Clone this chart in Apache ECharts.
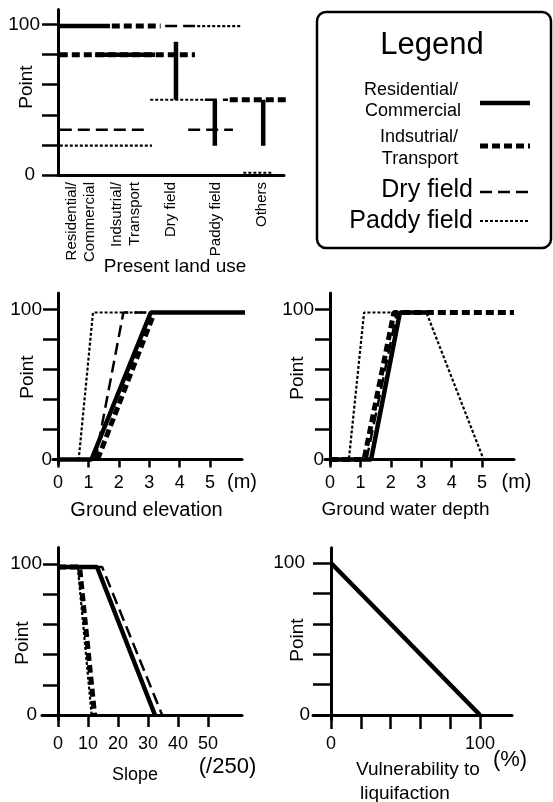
<!DOCTYPE html>
<html>
<head>
<meta charset="utf-8">
<title>Land use points</title>
<script src="https://cdn.jsdelivr.net/npm/echarts@6/dist/echarts.min.js"></script>
<style>
  html, body { margin: 0; padding: 0; background: #fff; }
  #main { width: 553px; height: 802px; }
</style>
</head>
<body>
<div id="main"></div>
<script>
// ---------------- data ----------------
var landUseCats = ['Residential/\nCommercial', 'Indsutrial/\nTransport', 'Dry field', 'Paddy field', 'Others'];

// present land use panel, x in category units (0..5)
var landRes   = [[[0, 99], [1.15, 99]], [[0.82, 80], [2.15, 80]], [[2.61, 88.5], [2.61, 50]], [[3.47, 50], [3.47, 19.5]], [[4.54, 50], [4.54, 19.5]]];
var landInd   = [[[1.19, 99], [2.27, 99]], [[0.04, 80], [3.03, 80]], [[3.8, 50], [5.09, 50]]];
var landDry   = [[[2.37, 99], [3.08, 99]], [[0.04, 30], [2.0, 30]], [[3.25, 50], [3.76, 50]], [[2.88, 30], [3.87, 30]]];
var landPaddy = [[[3.08, 99], [4.07, 99]], [[0.04, 19.5], [2.08, 19.5]], [[2.04, 50], [3.25, 50]], [[4.1, 1.5], [4.75, 1.5]]];

// ground elevation (m)
var elevRes   = [[[0, 0], [1.1, 0], [3.05, 98], [6.25, 98]]];
var elevInd   = [[[1.3, 0], [3.15, 97]]];
var elevDry   = [[[0, 0], [1.23, 0], [2.15, 98], [2.9, 98]]];
var elevPaddy = [[[0, 0], [0.68, 0], [1.15, 98], [2.9, 98]]];

// ground water depth (m)
var waterRes   = [[[0, 0], [1.35, 0], [2.3, 98], [3.35, 98]]];
var waterInd   = [[[0, 0], [1.12, 0], [2.1, 98], [6.05, 98]]];
var waterDry   = [[[1.2, 0], [2.2, 98], [3.3, 98]]];
var waterPaddy = [[[0, 0], [0.62, 0], [1.12, 98], [3.17, 98], [5.05, 0], [6.05, 0]]];

// slope (/250)
var slopeRes   = [[[0, 98], [13, 98], [32.3, 0]]];
var slopeInd   = [[[0, 98], [7.2, 98], [12.2, 0]]];
var slopeDry   = [[[0, 98], [14.7, 98], [34.7, 0]]];
var slopePaddy = [[[0, 98], [6.6, 98], [11.2, 0]]];

// vulnerability to liquifaction (%)
var vulnRes = [[[0, 100], [100, 0]]];

var meterTicks = [0, 1, 2, 3, 4, 5];
var slopeTicks = [0, 10, 20, 30, 40, 50];
var vulnTicks = [0, 20, 40, 60, 80, 100];
var vulnLabels = [0, 100];
var pointTicks = [20, 40, 60, 80, 100];

// ---------------- styles ----------------
var FONT = '"Liberation Sans", Arial, Helvetica, sans-serif';
var styles = {
  res:   { type: 'solid', width: 4.5 },
  ind:   { type: [8, 4], width: 5 },
  dry:   { type: [12, 6], width: 2.5 },
  paddy: { type: [3, 2], width: 2.2 }
};

function segs(list, key, xIdx, yIdx) {
  return list.map(function (d) {
    return {
      type: 'line', data: d, xAxisIndex: xIdx, yAxisIndex: yIdx,
      symbol: 'none', showSymbol: false, clip: false, silent: true, animation: false,
      lineStyle: { color: '#000', width: styles[key].width, type: styles[key].type, cap: 'butt' }
    };
  });
}
function panel(p, r, d, i, xIdx, yIdx) {
  return [].concat(segs(p, 'paddy', xIdx, yIdx), segs(d, 'dry', xIdx, yIdx),
                   segs(i, 'ind', xIdx, yIdx), segs(r, 'res', xIdx, yIdx));
}

function valX(gi, min, max, ticks, labels, tickLen, margin) {
  return {
    gridIndex: gi, type: 'value', min: min, max: max, splitLine: { show: false },
    axisLine: { onZero: true, lineStyle: { color: '#000', width: 3 } },
    axisTick: { customValues: ticks, length: tickLen, lineStyle: { color: '#000', width: 2.5 } },
    axisLabel: { customValues: labels, margin: margin, color: '#000', fontSize: 18, fontFamily: FONT }
  };
}
function valY(gi, min, max, ticks, tickLen, margin, pad0, pad100) {
  return {
    gridIndex: gi, type: 'value', min: min, max: max, splitLine: { show: false },
    axisLine: { onZero: true, lineStyle: { color: '#000', width: 3 } },
    axisTick: { customValues: ticks, length: tickLen, lineStyle: { color: '#000', width: 2.5 } },
    axisLabel: {
      customValues: [0, 100], margin: margin, color: '#000',
      formatter: function (v) { return v === 100 ? '{a|100}' : '{b|0}'; },
      rich: {
        a: { fontSize: 19, fontFamily: FONT, color: '#000', padding: [0, pad100, 0, 0] },
        b: { fontSize: 19, fontFamily: FONT, color: '#000', padding: [0, pad0, 0, 0] }
      }
    }
  };
}

function txt(s, x, y, size, align, rot) {
  return {
    type: 'text', x: x, y: y, rotation: rot || 0, silent: true,
    style: { text: s, fontSize: size, fontFamily: FONT, fill: '#000',
             align: align || 'center', verticalAlign: 'middle',
             textAlign: align || 'center', textVerticalAlign: 'middle' }
  };
}

var legendKeys = [['res', 103], ['ind', 146], ['dry', 192], ['paddy', 221]];

var graphics = [
  { type: 'rect', silent: true, shape: { x: 317, y: 12, width: 234, height: 236, r: 9 },
    style: { fill: 'none', stroke: '#000', lineWidth: 2.5 } },
  txt('Legend', 432, 45, 31),
  txt('Residential/', 411, 90, 18),
  txt('Commercial', 413, 111, 18),
  txt('Indsutrial/', 419, 137, 18),
  txt('Transport', 420, 159, 18),
  txt('Dry field', 473, 190, 25, 'right'),
  txt('Paddy field', 473, 221, 25, 'right'),
  txt('Point', 27, 87, 19, 'center', Math.PI / 2),
  txt('Point', 27.5, 377, 19, 'center', Math.PI / 2),
  txt('Point', 297.5, 378, 19, 'center', Math.PI / 2),
  txt('Point', 22.5, 643, 19, 'center', Math.PI / 2),
  txt('Point', 297.5, 640, 19, 'center', Math.PI / 2),
  txt('Present land use', 175, 267, 19),
  txt('Ground elevation', 146.5, 510, 20),
  txt('(m)', 242, 482, 20),
  txt('Ground water depth', 405.5, 510, 19),
  txt('(m)', 516.5, 482, 20),
  txt('Slope', 135, 775, 18),
  txt('(/250)', 227.5, 767, 22),
  txt('Vulnerability to', 356, 770, 19, 'left'),
  txt('liquifaction', 360, 794, 19, 'left'),
  txt('(%)', 510, 760, 22)
];
legendKeys.forEach(function (k) {
  graphics.push({
    type: 'line', silent: true, shape: { x1: 480, y1: k[1], x2: 530, y2: k[1] },
    style: { stroke: '#000', lineWidth: styles[k[0]].width,
             lineDash: styles[k[0]].type === 'solid' ? null : styles[k[0]].type }
  });
});

var option = {
  animation: false,
  backgroundColor: '#fff',
  grid: [
    { left: 58, top: 9.5, width: 226, height: 165.5 },
    { left: 53, top: 293, width: 189, height: 171 },
    { left: 325, top: 293, width: 189, height: 171 },
    { left: 42, top: 547.4, width: 200, height: 172.1 },
    { left: 313, top: 547.8, width: 199, height: 171.8 }
  ],
  xAxis: [
    {
      gridIndex: 0, type: 'category', data: landUseCats, boundaryGap: true,
      axisLine: { lineStyle: { color: '#000', width: 3 } },
      axisTick: { length: 11, alignWithLabel: false, lineStyle: { color: '#000', width: 2.5 } },
      axisLabel: { interval: 0, rotate: 90, margin: 7, color: '#000', fontSize: 15, lineHeight: 18, fontFamily: FONT }
    },
    { gridIndex: 0, type: 'value', min: 0, max: 5, show: false },
    valX(1, -0.165, 6.05, meterTicks, meterTicks, 8, 10.5),
    valX(2, -0.165, 6.05, meterTicks, meterTicks, 8, 10.5),
    valX(3, -5.333, 61.3, slopeTicks, slopeTicks, 12, 16),
    valX(4, -12.08, 121.5, vulnTicks, vulnLabels, 14, 15)
  ],
  yAxis: [
    valY(0, 0, 110, [0, 20, 40, 60, 80, 100], 16, 18, 5, 0),
    valY(1, -3, 111, pointTicks, 15, 1, 0, 10),
    valY(2, -3, 111, pointTicks, 15, 1, 0, 10),
    valY(3, -3, 111, pointTicks, 15, 0, 5, 0),
    valY(4, -3, 110, pointTicks, 18, 3, 0, 5)
  ],
  graphic: graphics,
  series: [].concat(
    panel(landPaddy, landRes, landDry, landInd, 1, 0),
    panel(elevPaddy, elevRes, elevDry, elevInd, 2, 1),
    panel(waterPaddy, waterRes, waterDry, waterInd, 3, 2),
    panel(slopePaddy, slopeRes, slopeDry, slopeInd, 4, 3),
    panel([], vulnRes, [], [], 5, 4)
  )
};

var myChart = echarts.init(document.getElementById('main'));
myChart.setOption(option);
</script>
</body>
</html>
